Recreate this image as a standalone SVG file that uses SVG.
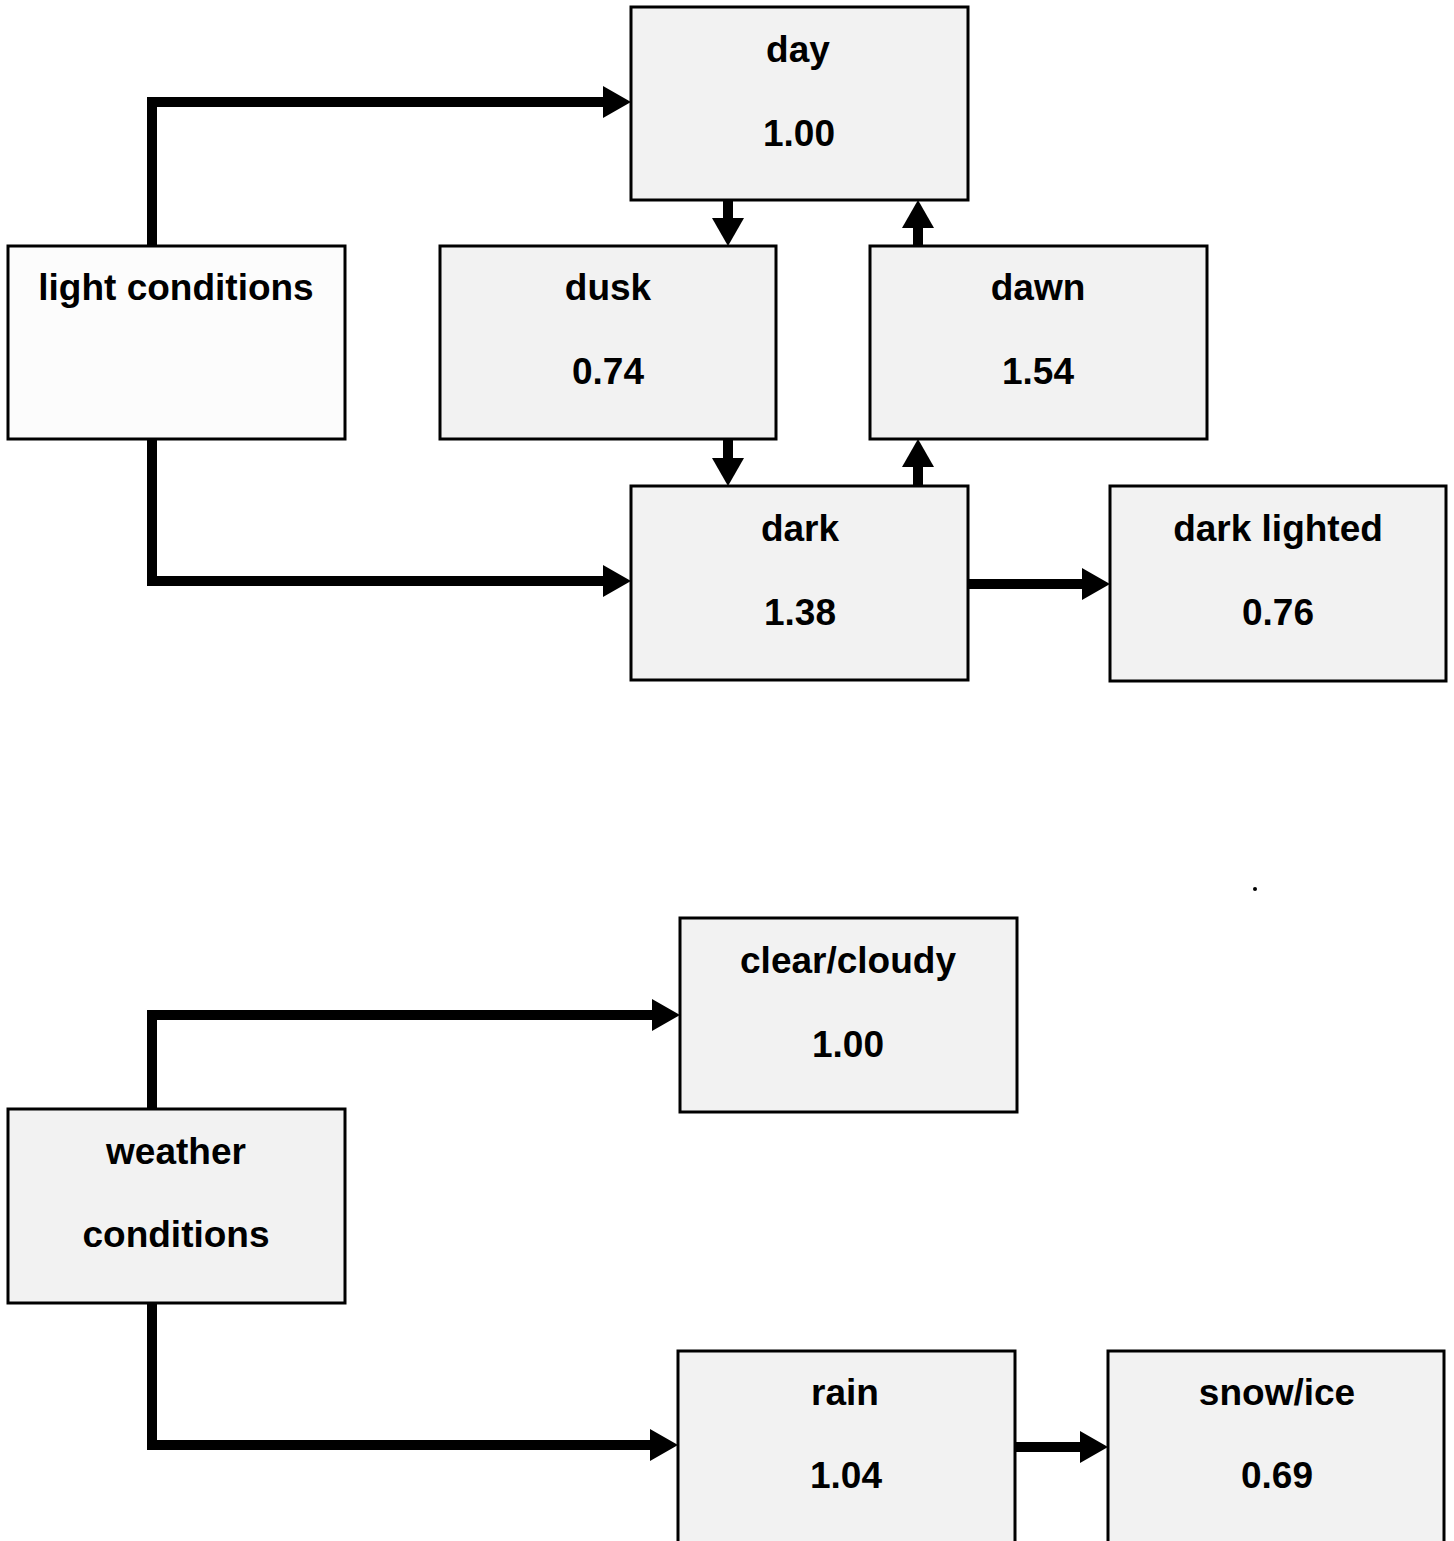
<svg xmlns="http://www.w3.org/2000/svg" width="1454" height="1541" viewBox="0 0 1454 1541">
<style>
.box{fill:#f2f2f2;stroke:#000;stroke-width:3}
.plain{fill:#fcfcfc;stroke:#000;stroke-width:3}
.t{font-family:"Liberation Sans",Arial,sans-serif;font-weight:bold;font-size:37px;text-anchor:middle;fill:#000}
.c{fill:none;stroke:#000;stroke-width:10;stroke-linejoin:miter}
</style>
<defs>
<marker id="ah" markerUnits="userSpaceOnUse" markerWidth="30" markerHeight="32" refX="0" refY="16" orient="auto" overflow="visible">
<path d="M0,0 L28,16 L0,32 Z" fill="#000"/>
</marker>
</defs>
<rect width="1454" height="1541" fill="#fff"/>
<g id="connectors">
<path class="c" d="M152,246 V102 H603" marker-end="url(#ah)"/>
<path class="c" d="M152,439 V581 H603" marker-end="url(#ah)"/>
<path class="c" d="M728,200 V218" marker-end="url(#ah)"/>
<path class="c" d="M728,439 V458" marker-end="url(#ah)"/>
<path class="c" d="M918,486 V467" marker-end="url(#ah)"/>
<path class="c" d="M918,246 V228" marker-end="url(#ah)"/>
<path class="c" d="M968,584 H1082" marker-end="url(#ah)"/>
<path class="c" d="M152,1109 V1015 H652" marker-end="url(#ah)"/>
<path class="c" d="M152,1303 V1445 H650" marker-end="url(#ah)"/>
<path class="c" d="M1015,1447 H1080" marker-end="url(#ah)"/>
</g>
<g id="day"><rect class="box" x="631" y="7" width="337" height="193"/><text class="t" x="798" y="62">day</text><text class="t" x="799" y="146">1.00</text></g>
<g id="light-conditions"><rect class="plain" x="8" y="246" width="337" height="193"/><text class="t" x="176" y="300">light conditions</text></g>
<g id="dusk"><rect class="box" x="440" y="246" width="336" height="193"/><text class="t" x="608" y="300">dusk</text><text class="t" x="608" y="384">0.74</text></g>
<g id="dawn"><rect class="box" x="870" y="246" width="337" height="193"/><text class="t" x="1038" y="300">dawn</text><text class="t" x="1038" y="384">1.54</text></g>
<g id="dark"><rect class="box" x="631" y="486" width="337" height="194"/><text class="t" x="800" y="541">dark</text><text class="t" x="800" y="625">1.38</text></g>
<g id="dark-lighted"><rect class="box" x="1110" y="486" width="336" height="195"/><text class="t" x="1278" y="541">dark lighted</text><text class="t" x="1278" y="625">0.76</text></g>
<g id="clear-cloudy"><rect class="box" x="680" y="918" width="337" height="194"/><text class="t" x="848" y="973">clear/cloudy</text><text class="t" x="848" y="1057">1.00</text></g>
<g id="weather-conditions"><rect class="box" x="8" y="1109" width="337" height="194"/><text class="t" x="176" y="1164">weather</text><text class="t" x="176" y="1247">conditions</text></g>
<g id="rain"><rect class="box" x="678" y="1351" width="337" height="200"/><text class="t" x="845" y="1405">rain</text><text class="t" x="846" y="1488">1.04</text></g>
<g id="snow-ice"><rect class="box" x="1108" y="1351" width="336" height="200"/><text class="t" x="1277" y="1405">snow/ice</text><text class="t" x="1277" y="1488">0.69</text></g>
<circle cx="1255" cy="889" r="2" fill="#000"/>
</svg>
